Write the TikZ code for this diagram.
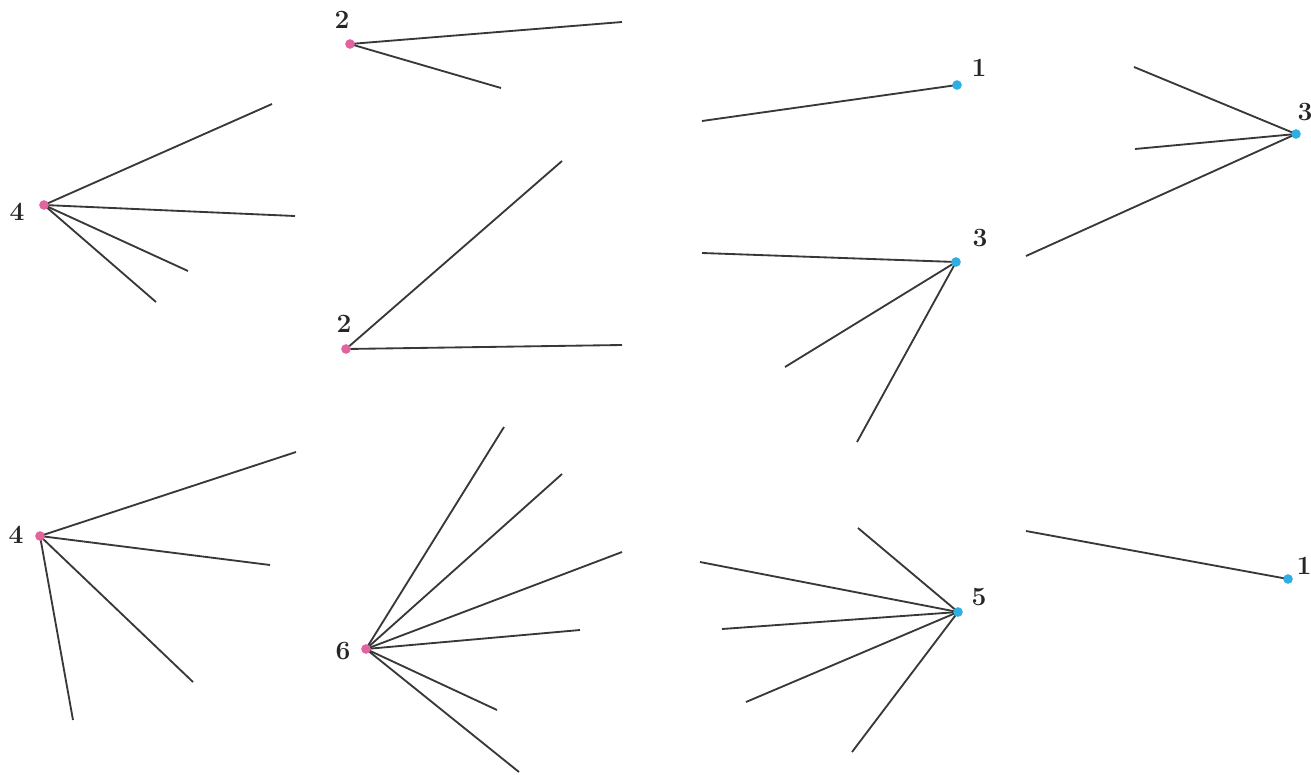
\documentclass[tikz,border=0pt]{standalone}
\begin{document}
\begin{tikzpicture}[x=0.02cm,y=-0.02cm,
  edge/.style={draw=black!78,line width=1.05pt},
  pdot/.style={circle,fill=pinkc,inner sep=0pt,minimum size=5.5pt},
  bdot/.style={circle,fill=bluec,inner sep=0pt,minimum size=5.5pt},
  lab/.style={font=\fontsize{15}{17}\selectfont\bfseries,text=black!85,inner sep=0pt}]
\definecolor{pinkc}{HTML}{E2649E}
\definecolor{bluec}{HTML}{2EAEE3}
\useasboundingbox (0,0) rectangle (1311,774);
% free ends of the stubs
\coordinate (a1) at (272,104); \coordinate (a2) at (295,216); \coordinate (a3) at (188,271); \coordinate (a4) at (156,302);
\coordinate (b1) at (622,22); \coordinate (b2) at (501,88);
\coordinate (c1) at (562,161); \coordinate (c2) at (622,345);
\coordinate (d1) at (296,452); \coordinate (d2) at (270,565); \coordinate (d3) at (193,682); \coordinate (d4) at (73,720);
\coordinate (e1) at (504,427); \coordinate (e2) at (562,474); \coordinate (e3) at (622,552); \coordinate (e4) at (580,630); \coordinate (e5) at (497,710); \coordinate (e6) at (519,772);
\coordinate (f1) at (702,121);
\coordinate (g1) at (1134,67); \coordinate (g2) at (1135,149); \coordinate (g3) at (1026,256);
\coordinate (h1) at (702,253); \coordinate (h2) at (785,367); \coordinate (h3) at (857,442);
\coordinate (i1) at (858,528); \coordinate (i2) at (700,562); \coordinate (i3) at (722,629); \coordinate (i4) at (746,702); \coordinate (i5) at (852,752);
\coordinate (j1) at (1026,531);
% vertex positions
\coordinate (pa) at (44,205); \coordinate (pb) at (350,44); \coordinate (pc) at (346,349); \coordinate (pd) at (40,536); \coordinate (pe) at (366,649);
\coordinate (qa) at (957,85); \coordinate (qb) at (1296,134); \coordinate (qc) at (956,262); \coordinate (qd) at (958,612); \coordinate (qe) at (1288,579);
% edges
\foreach \s/\e in {pa/a1,pa/a2,pa/a3,pa/a4,pb/b1,pb/b2,pc/c1,pc/c2,pd/d1,pd/d2,pd/d3,pd/d4,pe/e1,pe/e2,pe/e3,pe/e4,pe/e5,pe/e6,qa/f1,qb/g1,qb/g2,qb/g3,qc/h1,qc/h2,qc/h3,qd/i1,qd/i2,qd/i3,qd/i4,qd/i5,qe/j1}
  \draw[edge] (\s) -- (\e);
% dots
\node[pdot] (PA) at (pa) {}; \node[pdot] (PB) at (pb) {}; \node[pdot] (PC) at (pc) {}; \node[pdot] (PD) at (pd) {}; \node[pdot] (PE) at (pe) {};
\node[bdot] (QA) at (qa) {}; \node[bdot] (QB) at (qb) {}; \node[bdot] (QC) at (qc) {}; \node[bdot] (QD) at (qd) {}; \node[bdot] (QE) at (qe) {};
% labels
\node[lab] (LPA) at (17,212) {4};
\node[lab] (LPB) at (342,20) {2};
\node[lab] (LPC) at (344,324) {2};
\node[lab] (LPD) at (16,535) {4};
\node[lab] (LPE) at (343,651) {6};
\node[lab] (LQA) at (979,68) {1};
\node[lab] (LQB) at (1305,112) {3};
\node[lab] (LQC) at (980,238) {3};
\node[lab] (LQD) at (979,597) {5};
\node[lab] (LQE) at (1304,566) {1};
\end{tikzpicture}
\end{document}
